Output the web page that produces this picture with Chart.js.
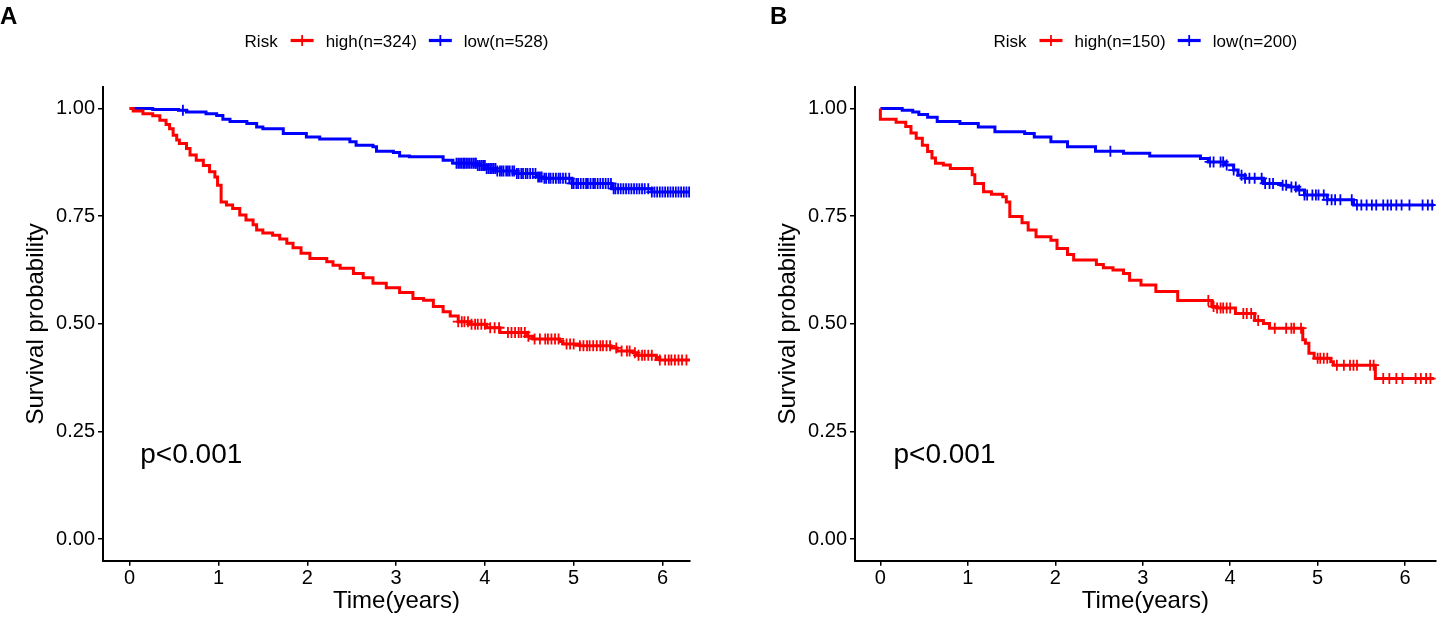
<!DOCTYPE html>
<html><head><meta charset="utf-8">
<script src="https://cdn.jsdelivr.net/npm/chart.js@4.4.1/dist/chart.umd.min.js"></script>
<style>
html,body{margin:0;padding:0;background:#fff;width:1443px;height:618px;overflow:hidden;}
#wa{position:absolute;left:0;top:0;width:720px;height:618px;}
#wb{position:absolute;left:720px;top:0;width:723px;height:618px;}
.lbl{position:absolute;font-family:'Liberation Sans',Arial,sans-serif;font-weight:bold;font-size:24px;line-height:24px;color:#000;}
</style></head><body>
<div id="wa"><canvas id="ca"></canvas></div>
<div id="wb"><canvas id="cb"></canvas></div>
<div class="lbl" style="left:0px;top:4px">A</div>
<div class="lbl" style="left:770px;top:4px">B</div>
<script>
// ---------- data ----------
const ticksX = [0, 1, 2, 3, 4, 5, 6];
const tickLabelsX = ['0', '1', '2', '3', '4', '5', '6'];
const ticksY = [0, 0.25, 0.5, 0.75, 1];
const tickLabelsY = ['0.00', '0.25', '0.50', '0.75', '1.00'];
const groupNames = ['high', 'low'];
const legendTitle = 'Risk';
const xTitle = 'Time(years)';
const yTitle = 'Survival probability';
const pvalText = 'p<0.001';

// Panel A
const aN = [324, 528];
const aHighTime = [0, 0.04, 0.15, 0.26, 0.34, 0.41, 0.45, 0.49, 0.53, 0.56, 0.64, 0.68, 0.75, 0.83, 0.90, 0.96, 0.99, 1.03, 1.09, 1.16, 1.24, 1.31, 1.39, 1.43, 1.50, 1.61, 1.69, 1.77, 1.84, 1.93, 2.03, 2.22, 2.29, 2.37, 2.52, 2.63, 2.74, 2.89, 3.04, 3.19, 3.31, 3.42, 3.53, 3.61, 3.70, 3.83, 4.02, 4.17, 4.47, 4.54, 4.84, 4.88, 5.07, 5.42, 5.49, 5.67, 5.71, 5.93, 5.97, 6.31];
const aHighSurv = [1.000, 0.994, 0.988, 0.983, 0.973, 0.963, 0.953, 0.938, 0.927, 0.919, 0.907, 0.892, 0.880, 0.868, 0.853, 0.841, 0.822, 0.783, 0.776, 0.768, 0.753, 0.741, 0.730, 0.718, 0.711, 0.706, 0.697, 0.687, 0.677, 0.664, 0.652, 0.644, 0.636, 0.629, 0.617, 0.607, 0.594, 0.584, 0.573, 0.559, 0.555, 0.540, 0.528, 0.518, 0.505, 0.499, 0.491, 0.480, 0.471, 0.465, 0.459, 0.453, 0.449, 0.444, 0.437, 0.433, 0.427, 0.422, 0.416, 0.416];
const aLowTime = [0, 0.26, 0.55, 0.64, 0.86, 0.98, 1.05, 1.13, 1.32, 1.43, 1.50, 1.73, 1.99, 2.14, 2.48, 2.55, 2.74, 2.78, 2.97, 3.04, 3.15, 3.53, 3.64, 3.91, 4.02, 4.13, 4.36, 4.58, 4.66, 4.98, 5.43, 5.88, 6.31];
const aLowSurv = [1.000, 0.998, 0.996, 0.992, 0.988, 0.984, 0.975, 0.970, 0.965, 0.957, 0.953, 0.942, 0.934, 0.929, 0.923, 0.915, 0.911, 0.901, 0.898, 0.890, 0.888, 0.880, 0.873, 0.868, 0.861, 0.855, 0.849, 0.841, 0.838, 0.826, 0.814, 0.806, 0.806];
const aHighCensor = [3.70, 3.74, 3.77, 3.81, 3.85, 3.89, 3.92, 3.96, 4.00, 4.06, 4.11, 4.16, 4.26, 4.30, 4.34, 4.38, 4.41, 4.45, 4.49, 4.56, 4.62, 4.68, 4.71, 4.75, 4.79, 4.83, 4.92, 4.96, 5.00, 5.07, 5.11, 5.15, 5.18, 5.22, 5.26, 5.30, 5.33, 5.37, 5.41, 5.48, 5.54, 5.60, 5.63, 5.69, 5.73, 5.77, 5.80, 5.84, 5.88, 5.97, 6.03, 6.07, 6.10, 6.14, 6.18, 6.22, 6.27];
const aLowCensor = [0.60, 3.68, 3.70, 3.72, 3.74, 3.76, 3.77, 3.79, 3.81, 3.83, 3.85, 3.87, 3.89, 3.90, 3.92, 3.94, 3.96, 3.98, 4.00, 4.02, 4.04, 4.06, 4.08, 4.10, 4.12, 4.14, 4.17, 4.19, 4.21, 4.24, 4.26, 4.28, 4.31, 4.33, 4.36, 4.38, 4.41, 4.43, 4.46, 4.48, 4.51, 4.54, 4.57, 4.60, 4.62, 4.64, 4.67, 4.69, 4.72, 4.74, 4.77, 4.80, 4.83, 4.85, 4.88, 4.91, 4.95, 4.98, 5.00, 5.03, 5.05, 5.08, 5.11, 5.14, 5.16, 5.19, 5.22, 5.24, 5.27, 5.30, 5.33, 5.36, 5.39, 5.42, 5.45, 5.47, 5.50, 5.53, 5.56, 5.59, 5.62, 5.65, 5.68, 5.71, 5.74, 5.77, 5.80, 5.84, 5.88, 5.91, 5.94, 5.97, 6.00, 6.03, 6.06, 6.09, 6.12, 6.15, 6.18, 6.21, 6.24, 6.27, 6.30];

// Panel B
const bN = [150, 200];
const bHighTime = [0, 0, 0.18, 0.29, 0.35, 0.41, 0.48, 0.54, 0.59, 0.63, 0.72, 0.80, 1.05, 1.08, 1.18, 1.27, 1.40, 1.44, 1.48, 1.62, 1.69, 1.78, 1.95, 2.02, 2.14, 2.21, 2.47, 2.55, 2.66, 2.78, 2.85, 2.98, 3.15, 3.40, 3.79, 3.85, 4.06, 4.28, 4.38, 4.45, 4.83, 4.86, 4.90, 4.96, 5.15, 5.18, 5.66, 6.33];
const bHighSurv = [1.000, 0.975, 0.968, 0.958, 0.943, 0.931, 0.915, 0.900, 0.885, 0.873, 0.869, 0.861, 0.846, 0.826, 0.807, 0.801, 0.795, 0.783, 0.749, 0.735, 0.718, 0.702, 0.694, 0.675, 0.661, 0.648, 0.638, 0.630, 0.625, 0.617, 0.601, 0.590, 0.575, 0.554, 0.540, 0.537, 0.524, 0.508, 0.501, 0.490, 0.463, 0.455, 0.432, 0.420, 0.412, 0.404, 0.373, 0.373];
const bLowTime = [0, 0.25, 0.37, 0.44, 0.54, 0.65, 0.91, 1.12, 1.31, 1.65, 1.76, 1.95, 2.14, 2.46, 2.78, 3.08, 3.66, 3.75, 3.94, 4.04, 4.09, 4.17, 4.38, 4.58, 4.66, 4.77, 4.85, 5.11, 5.41, 6.33];
const bLowSurv = [1.000, 0.996, 0.992, 0.986, 0.980, 0.970, 0.965, 0.957, 0.946, 0.942, 0.934, 0.923, 0.911, 0.901, 0.896, 0.890, 0.884, 0.876, 0.869, 0.857, 0.845, 0.838, 0.826, 0.822, 0.818, 0.811, 0.799, 0.788, 0.776, 0.776];
const bHighCensor = [3.75, 3.81, 3.85, 3.89, 3.92, 3.96, 4.00, 4.15, 4.19, 4.24, 4.32, 4.51, 4.64, 4.70, 4.73, 4.81, 5.00, 5.03, 5.07, 5.11, 5.22, 5.30, 5.37, 5.41, 5.45, 5.60, 5.64, 5.75, 5.82, 5.90, 5.97, 6.12, 6.18, 6.24, 6.29];
const bLowCensor = [2.63, 3.77, 3.81, 3.89, 3.92, 3.96, 4.04, 4.13, 4.17, 4.22, 4.28, 4.36, 4.40, 4.45, 4.49, 4.60, 4.64, 4.70, 4.75, 4.79, 4.85, 4.88, 4.94, 4.98, 5.01, 5.07, 5.11, 5.16, 5.20, 5.26, 5.39, 5.45, 5.50, 5.56, 5.62, 5.67, 5.75, 5.80, 5.84, 5.90, 5.96, 6.05, 6.20, 6.26, 6.31];

// ---------- rendering ----------
const FONT = "'Liberation Sans', Arial, Helvetica, sans-serif";
const RED = '#FF0000';
const BLUE = '#0000FF';

function survAt(times, surv, t) {
  let s = surv[0];
  for (let i = 0; i < times.length; i++) {
    if (times[i] <= t) s = surv[i]; else break;
  }
  return s;
}

const kmLegend = {
  id: 'kmLegend',
  afterDraw(chart) {
    const ctx = chart.ctx, ca = chart.chartArea;
    const labels = chart.data.datasets.filter(d => d.kmLegend).map(d => ({text: d.label, color: d.borderColor}));
    ctx.save();
    ctx.font = '17px ' + FONT;
    ctx.fillStyle = '#000';
    ctx.textBaseline = 'alphabetic';
    const lineW = 23, gapTitle = 13, gap = 12;
    const wTitle = ctx.measureText(legendTitle).width;
    let total = wTitle;
    labels.forEach((l, i) => { l.w = ctx.measureText(l.text).width; total += (i === 0 ? gapTitle : gap) + lineW + gap + l.w; });
    let x = (ca.left + ca.right) / 2 - total / 2;
    const base = 47, cy = 40.5;
    ctx.fillText(legendTitle, x, base);
    x += wTitle;
    labels.forEach((l, i) => {
      x += (i === 0 ? gapTitle : gap);
      ctx.strokeStyle = l.color;
      ctx.lineWidth = 3.2;
      ctx.beginPath(); ctx.moveTo(x, cy); ctx.lineTo(x + lineW, cy); ctx.stroke();
      ctx.lineWidth = 1.8;
      ctx.beginPath(); ctx.moveTo(x + lineW / 2, cy - 5.5); ctx.lineTo(x + lineW / 2, cy + 5.5);
      ctx.moveTo(x + lineW / 2 - 4.5, cy); ctx.lineTo(x + lineW / 2 + 4.5, cy); ctx.stroke();
      x += lineW + gap;
      ctx.fillStyle = '#000';
      ctx.fillText(l.text, x, base);
      x += l.w;
    });
    ctx.restore();
  }
};

const pvalPlugin = {
  id: 'pval',
  afterDatasetsDraw(chart, args, opts) {
    const ctx = chart.ctx;
    const x = chart.scales.x.getPixelForValue(opts.x);
    const y = chart.scales.y.getPixelForValue(opts.y);
    ctx.save();
    ctx.font = '28px ' + FONT;
    ctx.fillStyle = '#000';
    ctx.textBaseline = 'alphabetic';
    ctx.textAlign = 'left';
    ctx.fillText(pvalText, x, y);
    ctx.restore();
  }
};

function makeChart(canvasId, p) {
  const datasets = [];
  const series = [
    {t: p.highT, s: p.highS, c: p.highC, n: p.n[0], name: groupNames[0], color: RED},
    {t: p.lowT, s: p.lowS, c: p.lowC, n: p.n[1], name: groupNames[1], color: BLUE}
  ];
  series.forEach(g => {
    datasets.push({
      type: 'line',
      label: g.name + '(n=' + g.n + ')',
      kmLegend: true,
      data: g.t.map((t, i) => ({x: t, y: g.s[i]})),
      borderColor: g.color,
      backgroundColor: g.color,
      borderWidth: 3,
      stepped: 'before',
      pointRadius: 0,
      fill: false,
      borderJoinStyle: 'miter'
    });
    datasets.push({
      type: 'scatter',
      label: g.name + ' censor',
      data: g.c.map(t => ({x: t, y: survAt(g.t, g.s, t)})),
      borderColor: g.color,
      backgroundColor: g.color,
      pointStyle: 'cross',
      pointRadius: 5.5,
      borderWidth: 1.8,
      showLine: false
    });
  });

  const tickFont = {family: FONT, size: 20};
  const titleFont = {family: FONT, size: 24, lineHeight: 1.2};
  return new Chart(document.getElementById(canvasId), {
    type: 'line',
    data: {datasets},
    plugins: [kmLegend, pvalPlugin],
    options: {
      responsive: true,
      maintainAspectRatio: false,
      animation: false,
      events: [],
      layout: {padding: p.padding},
      plugins: {
        legend: {display: false},
        tooltip: {enabled: false},
        pval: {x: p.pvalX, y: p.pvalY}
      },
      scales: {
        x: {
          type: 'linear',
          min: p.xMin, max: p.xMax,
          afterBuildTicks: s => { s.ticks = ticksX.map(v => ({value: v})); },
          afterFit: s => { s.height = 57.3; },
          border: {display: true, color: '#000', width: 2},
          grid: {display: true, drawOnChartArea: false, drawTicks: true, tickLength: 5, color: '#000', lineWidth: 1.5},
          ticks: {color: '#000', font: tickFont, padding: 1, maxRotation: 0, autoSkip: false,
            callback: (v, i) => tickLabelsX[i]},
          title: {display: true, text: xTitle, color: '#000', font: titleFont, padding: {top: 0, bottom: 2}}
        },
        y: {
          type: 'linear',
          min: -0.05, max: 1.05,
          afterBuildTicks: s => { s.ticks = ticksY.map(v => ({value: v})); },
          afterFit: s => { s.width = 103; },
          border: {display: true, color: '#000', width: 2},
          grid: {display: true, drawOnChartArea: false, drawTicks: true, tickLength: 5, color: '#000', lineWidth: 1.5},
          ticks: {color: '#000', font: tickFont, padding: 3, autoSkip: false,
            callback: (v, i) => tickLabelsY[i]},
          title: {display: true, text: yTitle, color: '#000', font: titleFont, padding: {top: 22, bottom: 0}}
        }
      }
    }
  });
}

makeChart('ca', {
  n: aN, highT: aHighTime, highS: aHighSurv, lowT: aLowTime, lowS: aLowSurv,
  highC: aHighCensor, lowC: aLowCensor,
  xMin: -0.3, xMax: 6.31,
  padding: {top: 87, right: 30, left: 0, bottom: 0},
  pvalX: 0.12, pvalY: 0.176
});
makeChart('cb', {
  n: bN, highT: bHighTime, highS: bHighSurv, lowT: bLowTime, lowS: bLowSurv,
  highC: bHighCensor, lowC: bLowCensor,
  xMin: -0.29, xMax: 6.35,
  padding: {top: 87, right: 0, left: 32, bottom: 0},
  pvalX: 0.15, pvalY: 0.176
});
</script>
</body></html>
